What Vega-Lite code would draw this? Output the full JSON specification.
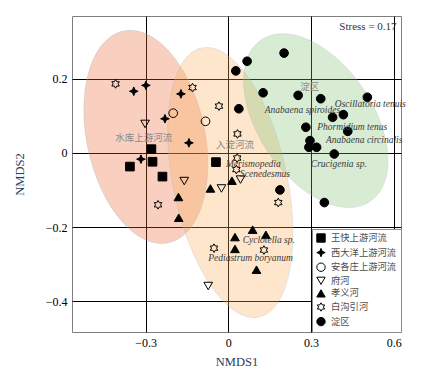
{
  "$schema": "https://vega.github.io/schema/vega-lite/v6.json",
  "width": 329,
  "height": 316,
  "autosize": "none",
  "padding": {"left": 72, "top": 16, "right": 31, "bottom": 36},
  "background": "white",
  "config": {"view": {"stroke": "#7f7f7f", "strokeWidth": 1}, "font": "Liberation Serif"},
  "datasets": {
    "pts": [
      {"x": -0.279, "y": 0.010, "g": "王快上游河流"},
      {"x": -0.275, "y": -0.024, "g": "王快上游河流"},
      {"x": -0.357, "y": -0.037, "g": "王快上游河流"},
      {"x": -0.239, "y": -0.064, "g": "王快上游河流"},
      {"x": -0.045, "y": -0.025, "g": "王快上游河流"},
      {"x": -0.343, "y": 0.166, "g": "西大洋上游河流"},
      {"x": -0.299, "y": 0.182, "g": "西大洋上游河流"},
      {"x": -0.230, "y": 0.092, "g": "西大洋上游河流"},
      {"x": -0.172, "y": 0.159, "g": "西大洋上游河流"},
      {"x": -0.143, "y": 0.027, "g": "西大洋上游河流"},
      {"x": -0.317, "y": -0.017, "g": "西大洋上游河流"},
      {"x": -0.200, "y": 0.107, "g": "安各庄上游河流"},
      {"x": -0.083, "y": 0.085, "g": "安各庄上游河流"},
      {"x": -0.302, "y": 0.078, "g": "府河"},
      {"x": -0.160, "y": -0.076, "g": "府河"},
      {"x": -0.025, "y": -0.096, "g": "府河"},
      {"x": 0.044, "y": -0.072, "g": "府河"},
      {"x": -0.073, "y": -0.359, "g": "府河"},
      {"x": -0.181, "y": -0.119, "g": "孝义河"},
      {"x": -0.180, "y": -0.175, "g": "孝义河"},
      {"x": -0.065, "y": -0.096, "g": "孝义河"},
      {"x": 0.013, "y": -0.075, "g": "孝义河"},
      {"x": 0.088, "y": -0.207, "g": "孝义河"},
      {"x": 0.136, "y": -0.221, "g": "孝义河"},
      {"x": 0.024, "y": -0.227, "g": "孝义河"},
      {"x": 0.024, "y": -0.259, "g": "孝义河"},
      {"x": 0.102, "y": -0.315, "g": "孝义河"},
      {"x": -0.409, "y": 0.186, "g": "白沟引河"},
      {"x": -0.130, "y": 0.176, "g": "白沟引河"},
      {"x": -0.034, "y": 0.126, "g": "白沟引河"},
      {"x": 0.033, "y": 0.051, "g": "白沟引河"},
      {"x": 0.032, "y": -0.014, "g": "白沟引河"},
      {"x": 0.029, "y": -0.045, "g": "白沟引河"},
      {"x": -0.255, "y": -0.140, "g": "白沟引河"},
      {"x": 0.181, "y": -0.134, "g": "白沟引河"},
      {"x": -0.052, "y": -0.257, "g": "白沟引河"},
      {"x": 0.129, "y": -0.262, "g": "白沟引河"},
      {"x": 0.202, "y": 0.269, "g": "淀区"},
      {"x": 0.068, "y": 0.247, "g": "淀区"},
      {"x": 0.027, "y": 0.221, "g": "淀区"},
      {"x": 0.126, "y": 0.162, "g": "淀区"},
      {"x": 0.253, "y": 0.155, "g": "淀区"},
      {"x": 0.335, "y": 0.146, "g": "淀区"},
      {"x": 0.504, "y": 0.150, "g": "淀区"},
      {"x": 0.038, "y": 0.119, "g": "淀区"},
      {"x": 0.378, "y": 0.096, "g": "淀区"},
      {"x": 0.417, "y": 0.103, "g": "淀区"},
      {"x": 0.281, "y": 0.069, "g": "淀区"},
      {"x": 0.433, "y": 0.058, "g": "淀区"},
      {"x": 0.296, "y": 0.033, "g": "淀区"},
      {"x": 0.292, "y": 0.015, "g": "淀区"},
      {"x": 0.320, "y": 0.015, "g": "淀区"},
      {"x": 0.384, "y": -0.003, "g": "淀区"},
      {"x": 0.187, "y": -0.100, "g": "淀区"},
      {"x": 0.348, "y": -0.134, "g": "淀区"}
    ],
    "species": [
      {"x": 0.132, "y": 0.116, "t": "Anabaena spiroides"},
      {"x": 0.386, "y": 0.131, "t": "Oscillatoria tenuis"},
      {"x": 0.322, "y": 0.071, "t": "Phormidium tenus"},
      {"x": 0.354, "y": 0.036, "t": "Anabaena circinalis"},
      {"x": 0.299, "y": -0.030, "t": "Crucigenia sp."},
      {"x": -0.009, "y": -0.029, "t": "Merismopedia"},
      {"x": 0.042, "y": -0.056, "t": "Scenedesmus"},
      {"x": 0.052, "y": -0.235, "t": "Cyclotella sp."},
      {"x": -0.073, "y": -0.284, "t": "Pediastrum boryanum"}
    ],
    "groups": [
      {"x": -0.307, "y": 0.041, "t": "水库上游河流"},
      {"x": 0.024, "y": 0.022, "t": "入淀河流"},
      {"x": 0.295, "y": 0.177, "t": "淀区"}
    ]
  },
  "layer": [
    {
      "data": {"values": [{"x": -0.299, "y": 0.043}]},
      "mark": {"type": "point", "shape": "M 0 -1 C 0.301 -1 0.545 -0.552 0.545 0 C 0.545 0.552 0.301 1 0 1 C -0.301 1 -0.545 0.552 -0.545 0 C -0.545 -0.552 -0.301 -1 0 -1 Z", "size": 46829, "angle": -12, "filled": true, "fill": "#eb622d", "fillOpacity": 0.3, "opacity": 1, "stroke": "#b0b4c4", "strokeWidth": 0.7, "strokeOpacity": 0.5},
      "encoding": {
        "x": {"field": "x", "type": "quantitative", "scale": {"domain": [-0.567, 0.626], "nice": false, "zero": false}, "title": "NMDS1",
          "axis": {"values": [-0.3, 0, 0.3, 0.6], "format": "~f", "grid": true, "gridColor": "#000000", "gridWidth": 1, "gridOpacity": 1, "ticks": false, "domain": false, "labelFont": "Liberation Serif", "labelFontSize": 12, "labelColor": "#000000", "labelPadding": 5, "titleFont": "Liberation Serif", "titleFontSize": 12.5, "titleFontWeight": "normal", "titleColor": "#2f3b5a", "titlePadding": 7}},
        "y": {"field": "y", "type": "quantitative", "scale": {"domain": [-0.483, 0.369], "nice": false, "zero": false}, "title": "NMDS2",
          "axis": {"values": [-0.4, -0.2, 0, 0.2], "format": "~f", "grid": true, "gridColor": "#000000", "gridWidth": 1, "gridOpacity": 1, "ticks": false, "domain": false, "labelFont": "Liberation Serif", "labelFontSize": 12, "labelColor": "#000000", "labelPadding": 5, "titleFont": "Liberation Serif", "titleFontSize": 12.5, "titleFontWeight": "normal", "titleColor": "#2f3b5a", "titleX": -46}}
      }
    },
    {
      "data": {"values": [{"x": 0.007, "y": -0.080}]},
      "mark": {"type": "point", "shape": "M 0 -1 C 0.229 -1 0.414 -0.552 0.414 0 C 0.414 0.552 0.229 1 0 1 C -0.229 1 -0.414 0.552 -0.414 0 C -0.414 -0.552 -0.229 -1 0 -1 Z", "size": 75625, "angle": -12, "filled": true, "fill": "#f8ac55", "fillOpacity": 0.3, "opacity": 1, "stroke": "#b0b4c4", "strokeWidth": 0.7, "strokeOpacity": 0.4},
      "encoding": {
        "x": {"field": "x", "type": "quantitative", "title": "NMDS1"},
        "y": {"field": "y", "type": "quantitative", "title": "NMDS2"}
      }
    },
    {
      "data": {"values": [{"x": 0.317, "y": 0.087}]},
      "mark": {"type": "point", "shape": "M 0 -1 C 0.324 -1 0.587 -0.552 0.587 0 C 0.587 0.552 0.324 1 0 1 C -0.324 1 -0.587 0.552 -0.587 0 C -0.587 -0.552 -0.324 -1 0 -1 Z", "size": 37947, "angle": -34, "filled": true, "fill": "#7dc070", "fillOpacity": 0.3, "opacity": 1, "stroke": "#b0b4c4", "strokeWidth": 0.7, "strokeOpacity": 0.4},
      "encoding": {
        "x": {"field": "x", "type": "quantitative", "title": "NMDS1"},
        "y": {"field": "y", "type": "quantitative", "title": "NMDS2"}
      }
    },
    {
      "data": {"name": "pts"},
      "mark": {"type": "point", "size": 75, "strokeWidth": 1, "opacity": 1},
      "encoding": {
        "x": {"field": "x", "type": "quantitative", "title": "NMDS1"},
        "y": {"field": "y", "type": "quantitative", "title": "NMDS2"},
        "shape": {"field": "g", "type": "nominal",
          "scale": {"domain": ["王快上游河流", "西大洋上游河流", "安各庄上游河流", "府河", "孝义河", "白沟引河", "淀区"],
            "range": ["square", "M 0 -1 L 0.3 -0.3 L 1 0 L 0.3 0.3 L 0 1 L -0.3 0.3 L -1 0 L -0.3 -0.3 Z", "circle", "triangle-down", "triangle-up", "M 0 -1 L 0.289 -0.5 L 0.866 -0.5 L 0.577 0 L 0.866 0.5 L 0.289 0.5 L 0 1 L -0.289 0.5 L -0.866 0.5 L -0.577 0 L -0.866 -0.5 L -0.289 -0.5 Z", "circle"]},
          "legend": {"orient": "bottom-right", "offset": 0, "title": null, "padding": 4, "strokeColor": "#8c8c8c", "fillColor": "#ffffff", "labelFont": "Noto Sans CJK SC", "labelFontSize": 9.3, "labelColor": "#4d4d4d", "symbolSize": 70, "symbolStrokeWidth": 1, "rowPadding": 0.6, "labelOffset": 5}},
        "fill": {"field": "g", "type": "nominal",
          "scale": {"domain": ["王快上游河流", "西大洋上游河流", "安各庄上游河流", "府河", "孝义河", "白沟引河", "淀区"],
            "range": ["#000000", "#000000", "transparent", "transparent", "#000000", "transparent", "#000000"]},
          "legend": {"orient": "bottom-right", "offset": 0, "title": null, "padding": 4, "strokeColor": "#8c8c8c", "fillColor": "#ffffff", "labelFont": "Noto Sans CJK SC", "labelFontSize": 9.3, "labelColor": "#4d4d4d", "symbolSize": 70, "symbolStrokeWidth": 1, "rowPadding": 0.6, "labelOffset": 5}},
        "stroke": {"field": "g", "type": "nominal",
          "scale": {"domain": ["王快上游河流", "西大洋上游河流", "安各庄上游河流", "府河", "孝义河", "白沟引河", "淀区"],
            "range": ["#000000", "#000000", "#000000", "#000000", "#000000", "#000000", "#000000"]},
          "legend": {"orient": "bottom-right", "offset": 0, "title": null, "padding": 4, "strokeColor": "#8c8c8c", "fillColor": "#ffffff", "labelFont": "Noto Sans CJK SC", "labelFontSize": 9.3, "labelColor": "#4d4d4d", "symbolSize": 70, "symbolStrokeWidth": 1, "rowPadding": 0.6, "labelOffset": 5}}
      }
    },
    {
      "data": {"name": "species"},
      "mark": {"type": "text", "align": "left", "baseline": "middle", "font": "Liberation Serif", "fontStyle": "italic", "fontSize": 9.5, "color": "#3a3a3a"},
      "encoding": {
        "x": {"field": "x", "type": "quantitative", "title": "NMDS1"},
        "y": {"field": "y", "type": "quantitative", "title": "NMDS2"},
        "text": {"field": "t"}
      }
    },
    {
      "data": {"name": "groups"},
      "mark": {"type": "text", "align": "center", "baseline": "middle", "font": "Noto Sans CJK SC", "fontSize": 9.5, "color": "#8a8a8a"},
      "encoding": {
        "x": {"field": "x", "type": "quantitative", "title": "NMDS1"},
        "y": {"field": "y", "type": "quantitative", "title": "NMDS2"},
        "text": {"field": "t"}
      }
    },
    {
      "data": {"values": [{"x": 0.61, "y": 0.339, "t": "Stress = 0.17"}]},
      "mark": {"type": "text", "align": "right", "baseline": "middle", "font": "Liberation Serif", "fontSize": 11, "color": "#333333"},
      "encoding": {
        "x": {"field": "x", "type": "quantitative", "title": "NMDS1"},
        "y": {"field": "y", "type": "quantitative", "title": "NMDS2"},
        "text": {"field": "t"}
      }
    }
  ]
}
